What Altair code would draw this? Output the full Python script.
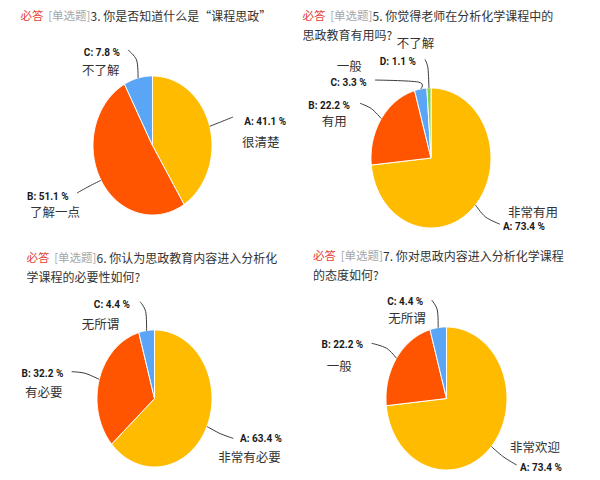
import altair as alt
import pandas as pd

# ---------------- data ----------------
panels = ["q3", "q5", "q6", "q7"]

title_prefix = "必答"
title_type = "[单选题]"
title_line1 = [
    "3. 你是否知道什么是“课程思政”",
    "5. 你觉得老师在分析化学课程中的",
    "6. 你认为思政教育内容进入分析化",
    "7. 你对思政内容进入分析化学课程",
]
title_line2 = ["", "思政教育有用吗?", "学课程的必要性如何?", "的态度如何?"]

q3_keys = ["A", "B", "C"]
q3_values = [41.1, 51.1, 7.8]
q3_options = ["很清楚", "了解一点", "不了解"]

q5_keys = ["A", "B", "C", "D"]
q5_values = [73.4, 22.2, 3.3, 1.1]
q5_options = ["非常有用", "有用", "一般", "不了解"]

q6_keys = ["A", "B", "C"]
q6_values = [63.4, 32.2, 4.4]
q6_options = ["非常有必要", "有必要", "无所谓"]

q7_keys = ["A", "B", "C"]
q7_values = [73.4, 22.2, 4.4]
q7_options = ["非常欢迎", "一般", "无所谓"]

color_keys = ["A", "B", "C", "D"]
color_range = ["#FFBB00", "#FF5500", "#5AA5F5", "#8CD13A"]

rows = []
for p, keys, vals, opts in [
    ("q3", q3_keys, q3_values, q3_options),
    ("q5", q5_keys, q5_values, q5_options),
    ("q6", q6_keys, q6_values, q6_options),
    ("q7", q7_keys, q7_values, q7_options),
]:
    for i, (k, v, o) in enumerate(zip(keys, vals, opts)):
        rows.append(dict(panel=p, key=k, value=v, option=o, order=i))
df = pd.DataFrame(rows)

# ---------------- layout (page pixel coordinates) ----------------
W, H = 584, 464
MX = 8  # page margin (x)
MY = 8  # page margin (y)

# ellipse centre x, centre y, radius x, radius y
GEOM = {
    "q3": (152.5, 145.5, 59.5, 69.5),
    "q5": (431.0, 158.0, 60.0, 70.0),
    "q6": (154.5, 398.5, 57.5, 68.5),
    "q7": (446.5, 398.5, 60.5, 71.5),
}

# label offsets relative to the slice's edge anchor
# pct: A -> left edge of label, others -> right edge of label
LAYOUT = {
    "q3": {
        "A": dict(ctrl=(11.6, -4.6), end=(23.3, -9.3), pct=(34.5, -4.3), opt=(32.3, 16.7)),
        "B": dict(ctrl=(-12, 6), end=(-24, 12.7), pct=(-32.3, 16.5), opt=(-71, 32.2)),
        "C": dict(ctrl=(-1.5, -18), end=(-10, -28), pct=(-18.1, -25), opt=(-56, -7)),
    },
    "q5": {
        "A": dict(ctrl=(10, 12), end=(24.4, 19.2), pct=(27.4, 22.2), opt=(32.4, 8.2)),
        "B": dict(ctrl=(-10, -10), end=(-21.4, -15.4), pct=(-31.4, -12.7), opt=(-59.7, 3)),
        "C": dict(ctrl=(-2.4, -7), end=(-45.7, -9), pct=(-54, -6.3), opt=(-84, -22.3)),
        "D": dict(ctrl=(-1, -20), end=(-4, -28.7), pct=(-13, -26.3), opt=(-32.3, -44)),
    },
    "q6": {
        "A": dict(ctrl=(13, 7), end=(26.3, 11.9), pct=(33, 12.9), opt=(11.3, 31.9)),
        "B": dict(ctrl=(-14.3, -6.1), end=(-27.6, -7.7), pct=(-36, -5.4), opt=(-74.3, 13.9)),
        "C": dict(ctrl=(-0.9, -19), end=(-6.6, -29), pct=(-16.6, -25.7), opt=(-64.9, -5.7)),
    },
    "q7": {
        "A": dict(ctrl=(11.9, 10.3), end=(25.3, 18.6), pct=(28.6, 21.9), opt=(18.6, 1.9)),
        "B": dict(ctrl=(-9.8, -10), end=(-24.8, -15), pct=(-33.2, -13.3), opt=(-69.8, 8.4)),
        "C": dict(ctrl=(-0.9, -17.7), end=(-6.5, -27.7), pct=(-14.9, -26), opt=(-49.9, -8.4)),
    },
}

# title: x of "必答", x where the question number starts, y of line 1, y of line 2
TPOS = {
    "q3": (20.5, 90.5, 17.0, 35.5),
    "q5": (302.5, 372.5, 17.0, 35.5),
    "q6": (26.5, 96.5, 258.5, 278.0),
    "q7": (313.0, 383.0, 257.0, 275.5),
}

CJK = "Noto Sans CJK SC"
LAT = "Roboto"

X = alt.X("px:Q", scale=alt.Scale(domain=[0, W], nice=False, zero=False), axis=None)
Y = alt.Y("py:Q", scale=alt.Scale(domain=[0, H], nice=False, zero=False, reverse=True), axis=None)
COLOR = alt.Color("key:N", scale=alt.Scale(domain=color_keys, range=color_range), legend=None)


def pick(p, name, i):
    expr = "0"
    for k, d in LAYOUT[p].items():
        expr = f"(datum.key=='{k}' ? {d[name][i]} : {expr})"
    return expr


def base(p):
    cx, cy, rx, ry = GEOM[p]
    return (
        alt.Chart(df)
        .transform_filter(alt.datum.panel == p)
        .transform_joinaggregate(total="sum(value)")
        .transform_window(cum="sum(value)", sort=[alt.SortField("order", order="ascending")])
        .transform_calculate(
            a0="2*PI*(datum.cum-datum.value)/datum.total",
            a1="2*PI*datum.cum/datum.total",
        )
        .transform_calculate(am="(datum.a0+datum.a1)/2")
        .transform_calculate(
            ax=f"{cx - MX} + {rx}*sin(datum.am)",
            ay=f"{cy - MY} - {ry}*cos(datum.am)",
        )
    )


N = 90
layers = []
for p in panels:
    cx, cy, rx, ry = GEOM[p]
    slices = (
        base(p)
        .transform_calculate(idx=f"sequence(0, {N + 3})")
        .transform_flatten(["idx"])
        .transform_calculate(t=f"datum.a0 + (datum.a1-datum.a0)*clamp(datum.idx-1, 0, {N})/{N}")
        .transform_calculate(
            px=f"(datum.idx==0 || datum.idx=={N + 2}) ? {cx - MX} : {cx - MX} + {rx}*sin(datum.t)",
            py=f"(datum.idx==0 || datum.idx=={N + 2}) ? {cy - MY} : {cy - MY} - {ry}*cos(datum.t)",
        )
        .mark_line(filled=True, stroke="white", strokeWidth=1, interpolate="linear")
        .encode(x=X, y=Y, color=COLOR, order=alt.Order("idx:Q"), detail="key:N")
    )
    leaders = (
        base(p)
        .transform_calculate(idx="sequence(0, 3)")
        .transform_flatten(["idx"])
        .transform_calculate(
            px=f"datum.ax + (datum.idx==0 ? 0 : datum.idx==1 ? {pick(p, 'ctrl', 0)} : {pick(p, 'end', 0)})",
            py=f"datum.ay + (datum.idx==0 ? 0 : datum.idx==1 ? {pick(p, 'ctrl', 1)} : {pick(p, 'end', 1)})",
        )
        .mark_line(interpolate="cardinal", color="#3a3a3a", strokeWidth=1)
        .encode(x=X, y=Y, order=alt.Order("idx:Q"), detail="key:N")
    )
    pct_base = base(p).transform_calculate(
        px=f"datum.ax + {pick(p, 'pct', 0)}",
        py=f"datum.ay + {pick(p, 'pct', 1)}",
        lbl="datum.key + ': ' + format(datum.value, '.1f') + ' %'",
    )
    pct_right_side = (
        pct_base.transform_filter(alt.datum.key == "A")
        .mark_text(align="left", baseline="middle", font=LAT, fontSize=10, fontWeight="bold", color="#1a1a1a")
        .encode(x=X, y=Y, text="lbl:N")
    )
    pct_left_side = (
        pct_base.transform_filter(alt.datum.key != "A")
        .mark_text(align="right", baseline="middle", font=LAT, fontSize=10, fontWeight="bold", color="#1a1a1a")
        .encode(x=X, y=Y, text="lbl:N")
    )
    opt = (
        base(p)
        .transform_calculate(
            px=f"datum.ax + {pick(p, 'opt', 0)}",
            py=f"datum.ay + {pick(p, 'opt', 1)}",
        )
        .mark_text(align="left", baseline="middle", font=CJK, fontSize=12.5, color="#333333")
        .encode(x=X, y=Y, text="option:N")
    )
    layers += [slices, leaders, pct_right_side, pct_left_side, opt]

# titles
for i, p in enumerate(panels):
    x0, xn, y1, y2 = TPOS[p]
    tdf = pd.DataFrame({
        "t": [title_prefix, title_type, title_line1[i], title_line2[i]],
        "px": [x0 - MX, xn - MX, xn - MX, x0 - MX],
        "py": [y1 - MY, y1 - MY, y1 - MY, y2 - MY],
        "seg": ["prefix", "type", "l1", "l2"],
    })
    for seg, colr, al, fs in [("prefix", "#E2403C", "left", 11.5), ("type", "#A6A6A6", "right", 11.5),
                              ("l1", "#333333", "left", 12), ("l2", "#333333", "left", 12)]:
        layers.append(
            alt.Chart(tdf)
            .transform_filter(alt.datum.seg == seg)
            .mark_text(align=al, baseline="middle", font=CJK, fontSize=fs, color=colr)
            .encode(x=X, y=Y, text="t:N")
        )

chart = (
    alt.layer(*layers)
    .properties(
        width=W, height=H, background="white", padding=0,
        autosize=alt.AutoSizeParams(type="none"),
    )
    .configure_view(stroke=None)
)

chart.save("out.html", embed_options={"renderer": "svg", "actions": False})
